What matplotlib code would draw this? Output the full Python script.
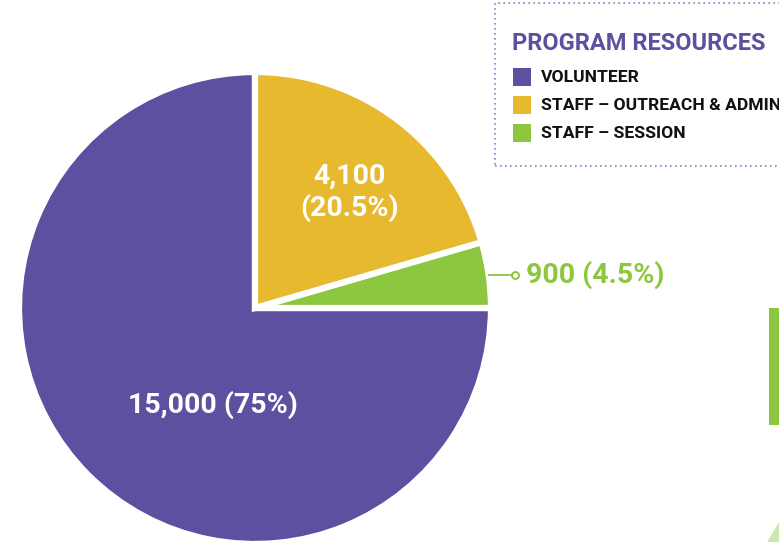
import matplotlib.pyplot as plt
import matplotlib.patches as mpatches
import numpy as np

labels = ["VOLUNTEER", "STAFF \u2013 OUTREACH & ADMIN", "STAFF \u2013 SESSION"]
values = [15000, 4100, 900]
pct_text = ["15,000 (75%)", "4,100\n(20.5%)", "900 (4.5%)"]
colors = ["#5E50A0", "#E6B92E", "#8DC63F"]
title = "PROGRAM RESOURCES"

W, H = 779, 542
fig = plt.figure(figsize=(W / 100, H / 100), dpi=100)

def fx(x):
    return x / W

def fy(y):
    return 1 - y / H

# pie axes: centre about (255, 308), radius 236 px
cx, cy, r = 255, 308, 236
ax = fig.add_axes([fx(cx - r), fy(cy + r), 2 * r / W, 2 * r / H])

# draw order: volunteer, session, outreach (counter-clockwise from 12 o'clock)
order = [0, 2, 1]
wedges, _ = ax.pie([values[i] for i in order], colors=[colors[i] for i in order],
                   startangle=90, counterclock=True, radius=1.0,
                   wedgeprops=dict(edgecolor="white", linewidth=4.5))
ax.set_xlim(-1, 1)
ax.set_ylim(-1, 1)
ax.set_aspect("equal")
ax.axis("off")

fnt = "Roboto"
ax.text(0.40, 0.49, pct_text[1], color="white", fontsize=20.5, fontweight="bold",
        ha="center", va="center", family=fnt, linespacing=1.2)
ax.text(-0.18, -0.41, pct_text[0], color="white", fontsize=20.5, fontweight="bold",
        ha="center", va="center", family=fnt)

# callout for the small slice
w = wedges[1]
mid = np.deg2rad((w.theta1 + w.theta2) / 2)
x0, y0 = np.cos(mid), np.sin(mid)
ax.plot([x0, 1.1], [y0, y0], color=colors[2], lw=1.3, clip_on=False)
ax.plot([1.1], [y0], marker="o", ms=5, mfc="white", mec=colors[2], mew=1.4, clip_on=False)
ax.text(1.15, y0, pct_text[2], color=colors[2], fontsize=20.5, fontweight="bold",
        ha="left", va="center", family=fnt, clip_on=False)

# legend box (dotted border, runs off right edge)
box = mpatches.Rectangle((fx(495), fy(166)), fx(300), fy(3) - fy(166), transform=fig.transFigure,
                         fill=False, edgecolor="#8C80C4", lw=1.2, linestyle=(0, (1, 2)))
fig.add_artist(box)
fig.text(fx(512), fy(43), title, color=colors[0], fontsize=17, fontweight="bold",
         family=fnt, ha="left", va="center")
for i, lab in enumerate(labels):
    yy = 77 + i * 28
    sq = mpatches.Rectangle((fx(513), fy(yy + 9)), fx(18), fy(yy - 9) - fy(yy + 9),
                            transform=fig.transFigure, color=colors[i], lw=0)
    fig.add_artist(sq)
    fig.text(fx(541), fy(yy + 1), lab, color="#111111", fontsize=12.6, fontweight="bold",
             family=fnt, ha="left", va="center")

# decorative bits at right edge
fig.add_artist(mpatches.Rectangle((fx(769), fy(425)), fx(12), fy(308) - fy(425),
                                  transform=fig.transFigure, color=colors[2], lw=0))
fig.add_artist(mpatches.Polygon([(fx(767), fy(542)), (fx(779), fy(522)), (fx(779), fy(542))],
                                transform=fig.transFigure, color="#CDE6AE", lw=0))

fig.savefig("out.png", dpi=100)
